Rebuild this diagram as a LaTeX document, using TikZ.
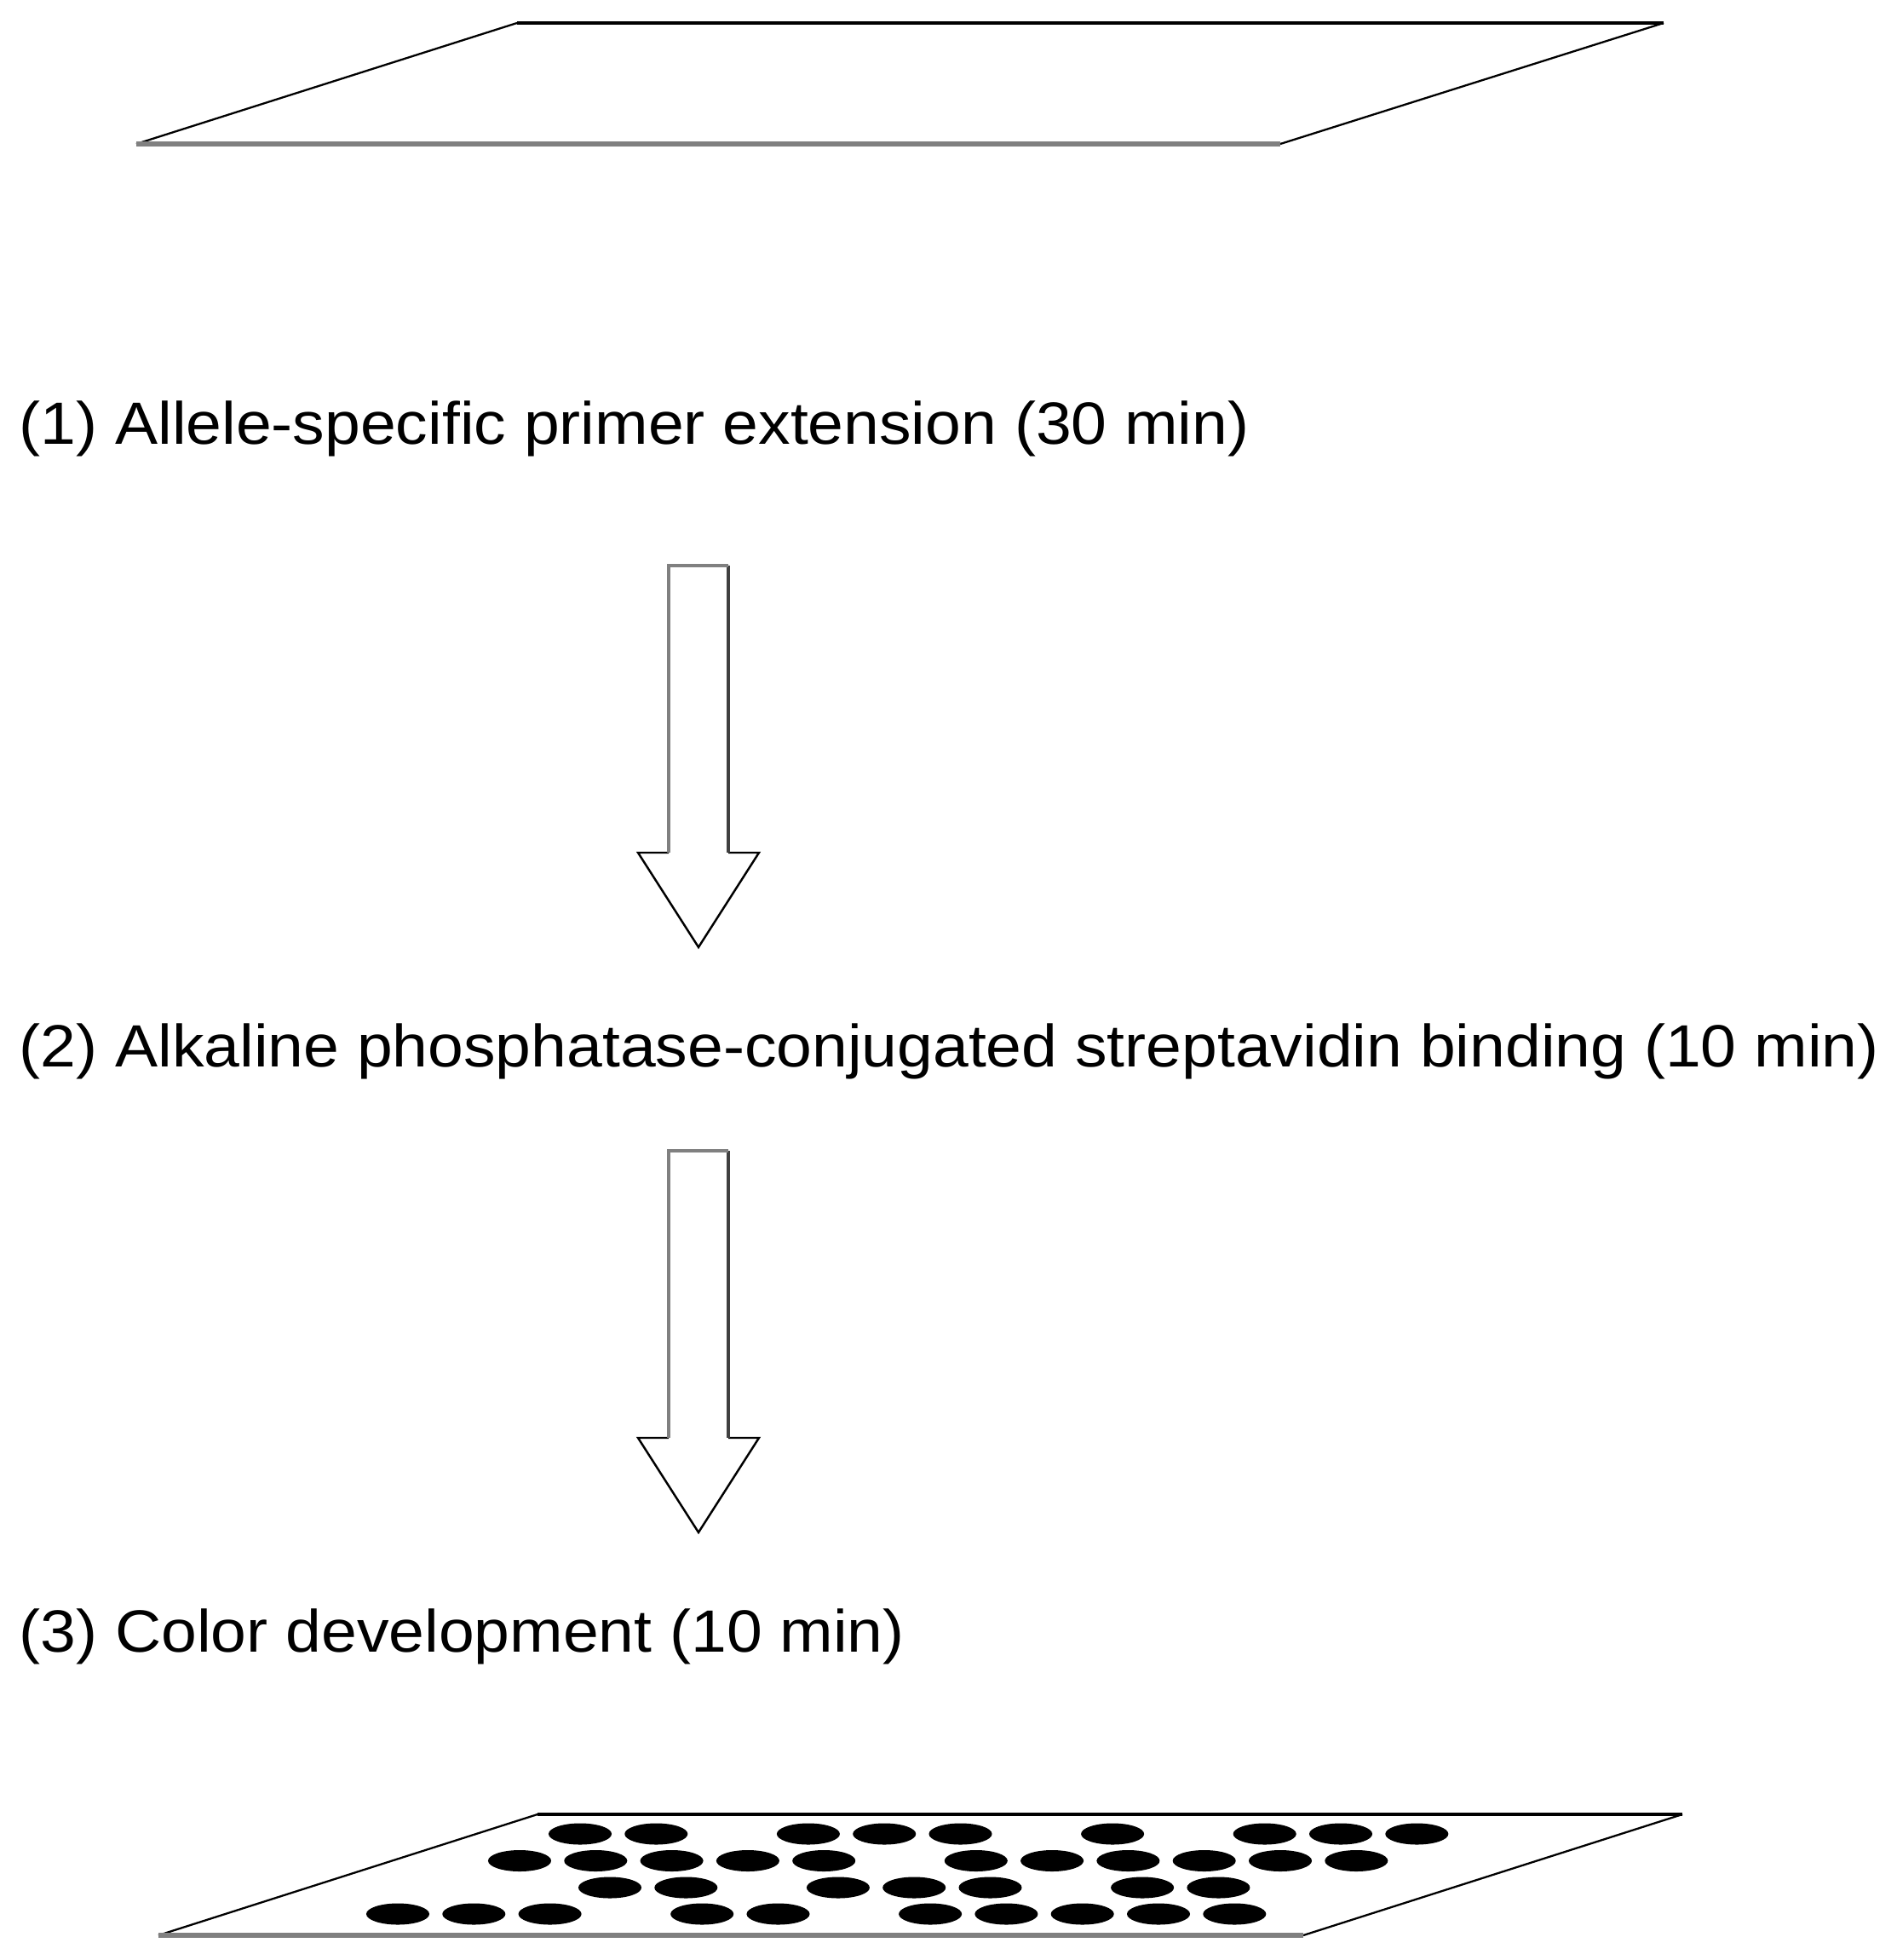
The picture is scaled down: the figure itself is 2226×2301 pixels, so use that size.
\documentclass[tikz,border=0pt]{standalone}
\usepackage{fontspec}
\setmainfont{Liberation Sans}[FakeStretch=1.072]
\usetikzlibrary{calc,backgrounds}

\begin{document}
\begin{tikzpicture}[%
    x=0.01cm, y=-0.01cm,%
    show background rectangle,%
    tight background,%
    background rectangle/.style={fill=white}%
  ]
  %
% Styles
%
\tikzset{every node/.style={font=\fontsize{19.92pt}{24pt}\selectfont}};%
\tikzset{etape/.style={anchor=base west, inner sep=0pt}};%
\tikzset{plaque haut/.style={black, line width=0.9pt}};%
\tikzset{plaque bas/.style={gray, line width=1.7pt}};%
\tikzset{plaque cote/.style={black, line width=0.65pt}};%
\tikzset{bord noir/.style={black, line width=0.7pt}};%
\tikzset{bord gris/.style={gray, line width=1.2pt}};%
\tikzset{bord fonce/.style={black!75, line width=0.9pt}};%
\tikzset{tache/.pic={\fill[black] (0,0) ellipse[x radius=0.37cm, y radius=0.125cm];}};%
\tikzset{fleche bloc/.pic={%
    \fill[white] (-\demi,0) -- (\demi,0) -- (\demi,\tete) -- (\aile,\tete) -- (0,\pointe)
      -- (-\aile,\tete) -- (-\demi,\tete) -- cycle;%
    \draw[bord noir] (\demi,\tete) -- (\aile,\tete) -- (0,\pointe) -- (-\aile,\tete) -- (-\demi,\tete);%
    \draw[bord fonce] (\demi,0) -- (\demi,\tete);%
    \draw[bord gris] (-\demi,\tete) -- (-\demi,0) -- (\demi,0);%
  }};%

%
% Macros
%
\pgfmathsetmacro{\demi}{35};%
\pgfmathsetmacro{\aile}{71};%
\pgfmathsetmacro{\tete}{337};%
\pgfmathsetmacro{\pointe}{448};%
\pgfmathsetmacro{\pas}{89.3};%

\useasboundingbox (0,0) rectangle (2226,2301);%

%
% Plates
%
\draw[plaque cote] (607,27) -- (160,169);%
\draw[plaque cote] (1953,27) -- (1503,169);%
\draw[plaque haut] (607,27) -- (1953,27);%
\draw[plaque bas] (160,169) -- (1503,169);%

\draw[plaque cote] (631,2130) -- (186,2272);%
\draw[plaque cote] (1975,2130) -- (1530,2272);%
\draw[plaque haut] (631,2130) -- (1975,2130);%
\draw[plaque bas] (186,2272) -- (1530,2272);%

%
% Steps
%
\node[etape] (etape1) at (22,522) {(1) Allele-specific primer extension (30 min)};%
\node[etape] (etape2) at (22,1252) {(2) Alkaline phosphatase-conjugated streptavidin binding (10 min)};%
\node[etape] (etape3) at (22,1939) {(3) Color development (10 min)};%

\pic at (820,664) {fleche bloc};%
\pic at (820,1351) {fleche bloc};%

  % The spots on the developed plate, row by row
  \foreach \i in {0,1,3,4,5,7,9,10,11} {\pic at ({681+\pas*\i},2153) {tache};}%
  \foreach \i in {0,1,2,3,4,6,7,8,9,10,11} {\pic at ({610+\pas*\i},2184.5) {tache};}%
  \foreach \i in {0,1,3,4,5,7,8} {\pic at ({716+\pas*\i},2216) {tache};}%
  \foreach \i in {0,1,2,4,5,7,8,9,10,11} {\pic at ({467+\pas*\i},2247) {tache};}%
\end{tikzpicture}
\end{document}
